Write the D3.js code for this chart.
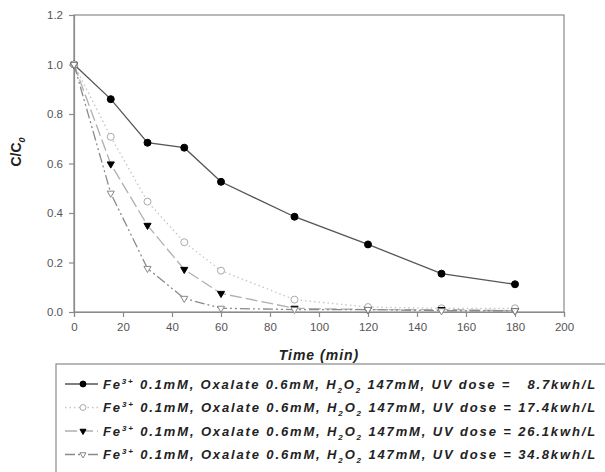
<!DOCTYPE html>
<html>
<head>
<meta charset="utf-8">
<script src="https://cdn.jsdelivr.net/npm/d3@7"></script>
<style>
  body { margin: 0; background: #fff; }
  svg { display: block; font-family: "Liberation Sans", Arial, sans-serif; }
</style>
</head>
<body>
<svg id="chart" width="605" height="472"></svg>
<script>
// data
const times = [0, 15, 30, 45, 60, 90, 120, 150, 180];
const dose87 = [1.0, 0.86, 0.684, 0.664, 0.526, 0.385, 0.273, 0.155, 0.112];
const dose174 = [1.0, 0.708, 0.446, 0.282, 0.167, 0.05, 0.02, 0.015, 0.015];
const dose261 = [1.0, 0.598, 0.35, 0.172, 0.075, 0.015, 0.01, 0.01, 0.005];
const dose348 = [1.0, 0.48, 0.176, 0.055, 0.015, 0.01, 0.01, 0.005, 0.005];
const doseLabels = ["  8.7", "17.4", "26.1", "34.8"];
const xTicks = [0, 20, 40, 60, 80, 100, 120, 140, 160, 180, 200];
const yTicks = [0.0, 0.2, 0.4, 0.6, 0.8, 1.0, 1.2];

const svg = d3.select("#chart");
const plotL = 74, plotR = 564, plotT = 15, plotB = 312;

const x = d3.scaleLinear().domain([0, 200]).range([plotL, plotR]);
const y = d3.scaleLinear().domain([0, 1.2]).range([plotB, plotT]);

const axisColor = "#8a8a8a";

// frame
svg.append("rect")
  .attr("x", plotL).attr("y", plotT)
  .attr("width", plotR - plotL).attr("height", plotB - plotT)
  .attr("fill", "none").attr("stroke", axisColor).attr("stroke-width", 1.2);

const xAxis = svg.append("g")
  .attr("transform", `translate(0,${plotB})`)
  .call(d3.axisBottom(x).tickValues(xTicks).tickSize(5).tickPadding(6).tickFormat(d3.format("d")));
const yAxis = svg.append("g")
  .attr("transform", `translate(${plotL},0)`)
  .call(d3.axisLeft(y).tickValues(yTicks).tickSize(5).tickPadding(6).tickFormat(d3.format(".1f")));

[xAxis, yAxis].forEach(g => {
  g.select(".domain").attr("stroke", axisColor).attr("stroke-width", 1.2);
  g.selectAll(".tick line").attr("stroke", axisColor).attr("stroke-width", 1.2);
  g.selectAll(".tick text")
    .attr("fill", "#555")
    .style("font-size", "11.5px")
    .style("font-family", "'Liberation Sans', Arial, sans-serif");
});

// axis titles
svg.append("text")
  .attr("x", (plotL + plotR) / 2)
  .attr("y", 360)
  .attr("text-anchor", "middle")
  .style("font-size", "14px")
  .style("font-weight", "bold")
  .style("font-style", "italic")
  .style("letter-spacing", "1px")
  .attr("fill", "#222")
  .text("Time (min)");

const yTitle = svg.append("text")
  .attr("transform", "translate(21,152) rotate(-90)")
  .attr("text-anchor", "middle")
  .style("font-size", "14px")
  .style("font-weight", "bold")
  .attr("fill", "#222");
yTitle.append("tspan").text("C/C");
yTitle.append("tspan").attr("dy", 4).style("font-size", "9px").style("font-style", "italic").text("0");

// series
const series = [
  { values: dose87, stroke: "#555", dash: null, marker: "circle", fill: "#000", mstroke: "#000", width: 1.3 },
  { values: dose174, stroke: "#c4c4c4", dash: "1.5,3", marker: "circle", fill: "#fff", mstroke: "#aaa", width: 1.3 },
  { values: dose261, stroke: "#b0b0b0", dash: "12,4", marker: "triangle", fill: "#000", mstroke: "#000", width: 1.3 },
  { values: dose348, stroke: "#8a8a8a", dash: "10,3,2,3,2,3", marker: "triangle", fill: "#fff", mstroke: "#888", width: 1.3 }
];

const line = d3.line().x(d => x(d.t)).y(d => y(d.v));

function drawMarker(g, s, cx, cy, scale) {
  if (s.marker === "circle") {
    g.append("circle")
      .attr("cx", cx).attr("cy", cy).attr("r", 3.5 * scale)
      .attr("fill", s.fill).attr("stroke", s.mstroke).attr("stroke-width", 1);
  } else {
    g.append("path")
      .attr("d", d3.symbol().type(d3.symbolTriangle).size(22 * scale * scale)())
      .attr("transform", `translate(${cx},${cy}) rotate(180)`)
      .attr("fill", s.fill).attr("stroke", s.mstroke).attr("stroke-width", 1);
  }
}

series.forEach(s => {
  const pts = times.map((t, i) => ({ t: t, v: s.values[i] }));
  const g = svg.append("g");
  g.append("path")
    .attr("d", line(pts))
    .attr("fill", "none")
    .attr("stroke", s.stroke)
    .attr("stroke-width", s.width)
    .attr("stroke-dasharray", s.dash);
  pts.forEach(p => drawMarker(g, s, x(p.t), y(p.v), 1));
});

// legend
const legX = 56, legY = 364;
svg.append("rect")
  .attr("x", legX).attr("y", legY)
  .attr("width", 620).attr("height", 130)
  .attr("fill", "#fff").attr("stroke", axisColor).attr("stroke-width", 1.2);

series.forEach((s, i) => {
  const ry = 384 + i * 23.5;
  const g = svg.append("g");
  g.append("line")
    .attr("x1", 65).attr("x2", 98).attr("y1", ry).attr("y2", ry)
    .attr("stroke", s.stroke).attr("stroke-width", s.width)
    .attr("stroke-dasharray", s.dash);
  drawMarker(g, s, 83, ry, 0.85);

  const t = g.append("text")
    .attr("x", 103).attr("y", ry + 4.5)
    .style("font-size", "13px")
    .style("font-weight", "bold")
    .style("font-style", "italic")
    .style("white-space", "pre")
    .attr("fill", "#222");
  t.append("tspan").text("Fe");
  t.append("tspan").attr("dy", -5).style("font-size", "8px").text("3+");
  t.append("tspan").attr("dy", 5).text(" 0.1mM, Oxalate 0.6mM, H");
  t.append("tspan").attr("dy", 4).style("font-size", "8px").text("2");
  t.append("tspan").attr("dy", -4).text("O");
  t.append("tspan").attr("dy", 4).style("font-size", "8px").text("2");
  t.append("tspan").attr("dy", -4).text(" 147mM, UV dose = " + doseLabels[i] + "kwh/L");

  // stretch the spacing so each row ends near x = 597
  const len = t.node().getComputedTextLength();
  const chars = t.text().length;
  const extra = (597 - 103 - len) / chars;
  t.style("letter-spacing", extra + "px");
});
</script>
</body>
</html>
